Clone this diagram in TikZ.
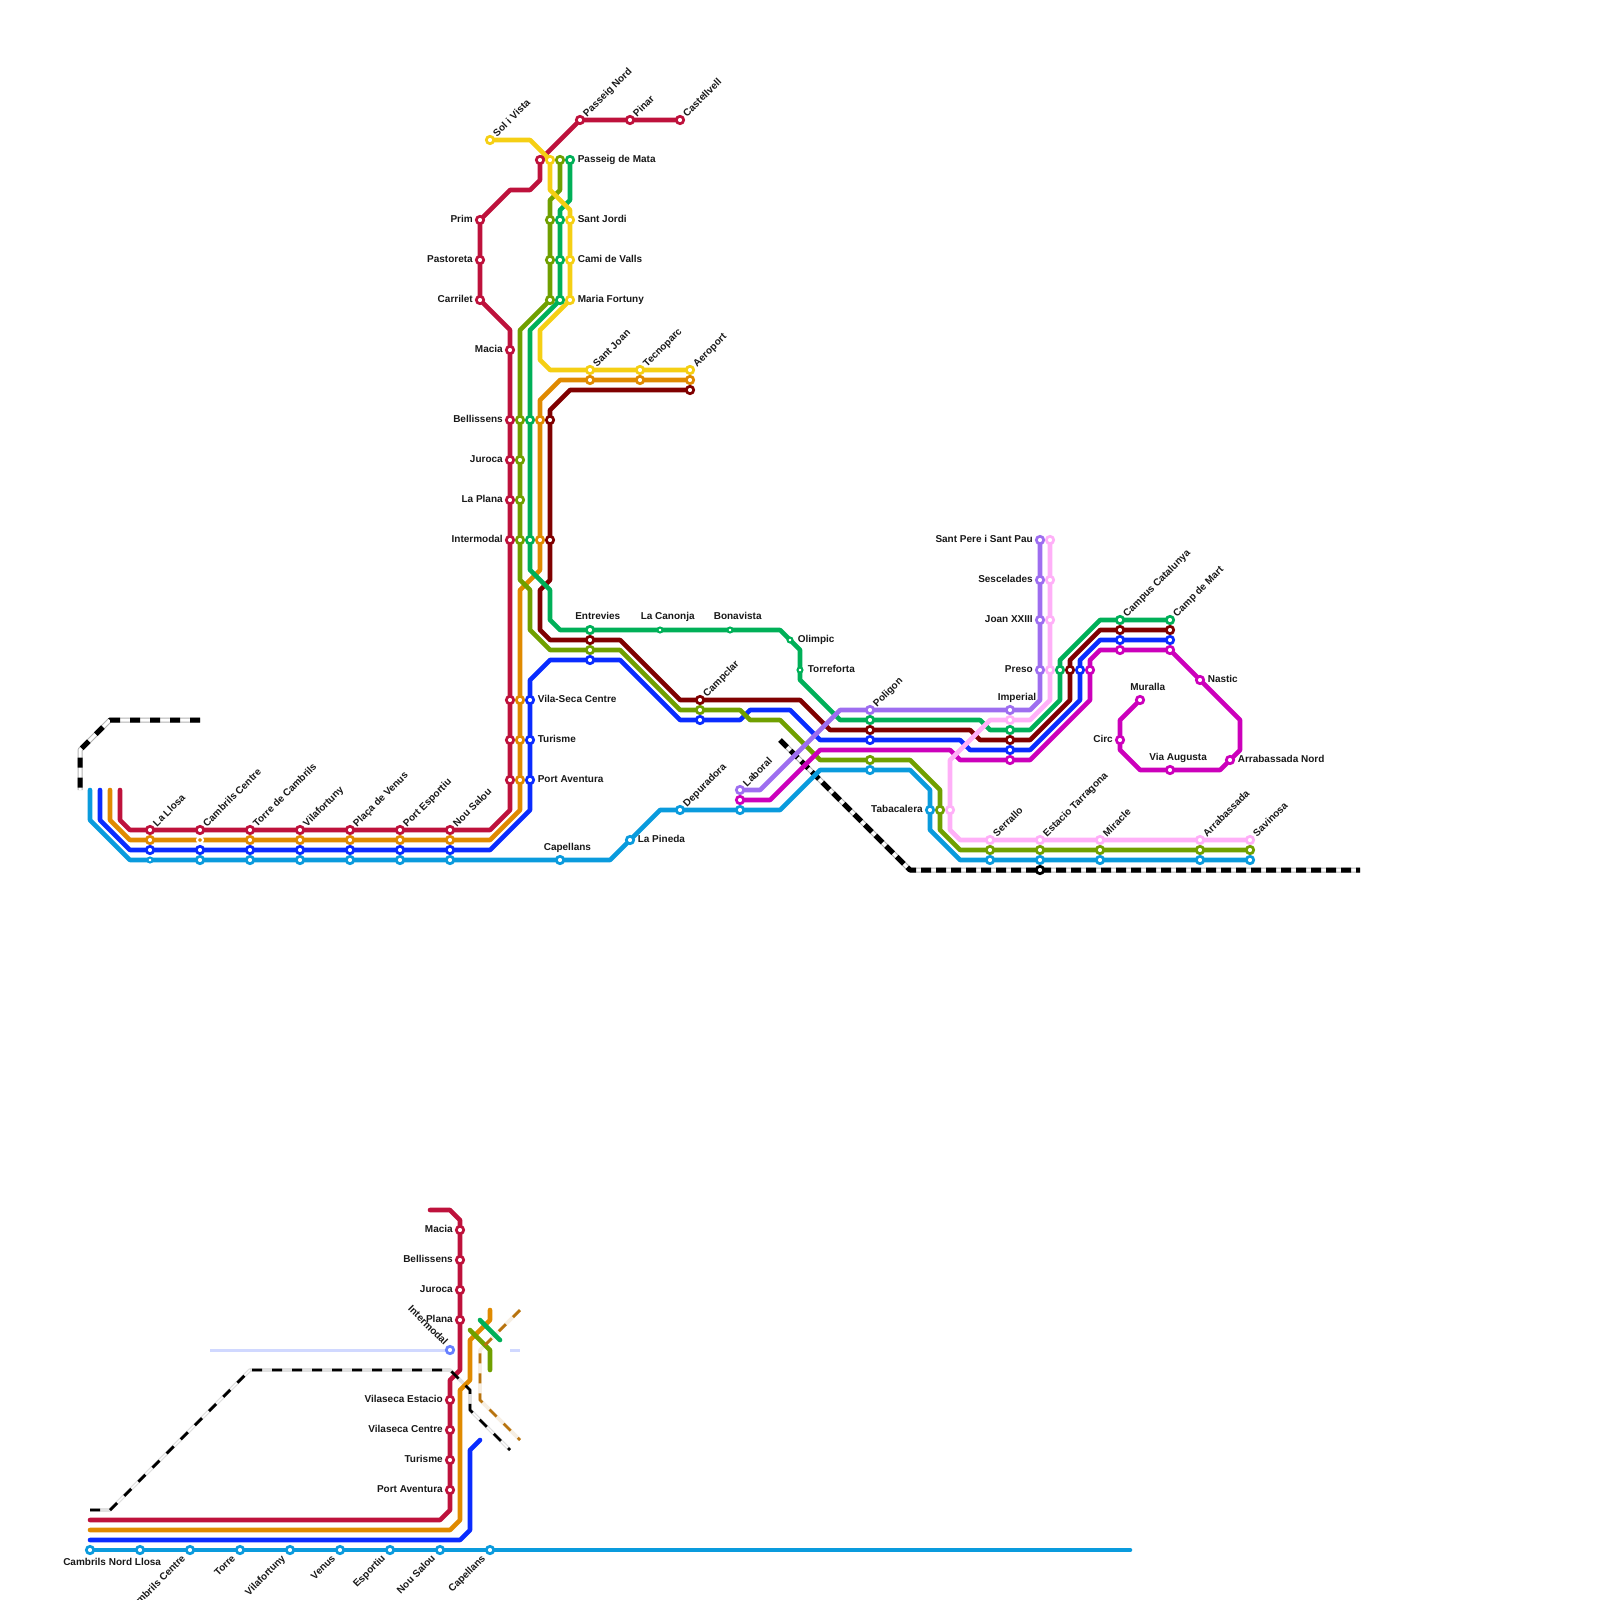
\documentclass[tikz,border=0pt]{standalone}
\usepackage{fontspec}
\usepackage{xcolor}
\usepackage{tikz}
\setmainfont{Liberation Sans}
\definecolor{clred}{RGB}{190,18,60}
\definecolor{clor}{RGB}{224,138,0}
\definecolor{clbl}{RGB}{10,44,255}
\definecolor{clcy}{RGB}{10,155,221}
\definecolor{clol}{RGB}{112,160,0}
\definecolor{clgn}{RGB}{0,176,88}
\definecolor{cldk}{RGB}{128,0,0}
\definecolor{clyl}{RGB}{245,207,20}
\definecolor{clpu}{RGB}{158,110,240}
\definecolor{clpk}{RGB}{255,176,248}
\definecolor{clmg}{RGB}{204,0,187}
\definecolor{clbr}{RGB}{184,115,13}
\definecolor{clli}{RGB}{208,216,255}
\definecolor{clim}{RGB}{102,128,255}
\pgfdeclarelayer{lines}
\pgfsetlayers{lines,main}
\tikzset{
  st/.style={circle, draw=#1, fill=white, line width=0.68mm, minimum size=1.85mm, inner sep=0pt},
  sts/.style={circle, draw=#1, fill=white, line width=0.5mm, minimum size=1.25mm, inner sep=0pt},
  stx/.style={circle, draw=white, fill=#1, line width=0.5mm, minimum size=1.5mm, inner sep=0pt},
  lbl/.style={font=\fontsize{7.11}{8}\selectfont\bfseries, text=black!90, inner sep=0pt},
  lblr/.style={lbl, anchor=base west},
  lbll/.style={lbl, anchor=base east},
  lbld/.style={lbl, anchor=base west, rotate=45},
  lblu/.style={lbl, anchor=base east, rotate=45},
  lnm/.style={draw=#1, line width=1.15mm, line cap=round, line join=round},
  lnf/.style={draw=#1, line width=0.75mm, line cap=butt, line join=round},
  railw/.style={draw=black!30, line width=1.25mm, line join=round},
  railm/.style={draw=white, line width=0.75mm, line join=round},
  railc/.style={draw=black, line width=1.25mm, line join=round},
  thinw/.style={draw=black!12, line width=0.9mm, line join=round},
  thinm/.style={draw=white, line width=0.3mm, line join=round},
  thinc/.style={draw=black, line width=0.7mm, line join=round, dash pattern=on 2.5mm off 2.5mm},
  brw/.style={draw=clbr!12, line width=0.9mm, line join=round},
  brc/.style={draw=clbr, line width=0.7mm, line join=round, dash pattern=on 2.5mm off 2.5mm}
}

\begin{document}
\begin{tikzpicture}[x=0.25mm, y=-0.25mm]
  \clip (0,0) rectangle (1600,1600);
  \node[st=clred] (rdCas) at (680,120) {};
  \node[st=clred] (rdPin) at (630,120) {};
  \node[st=clred] (rdPno) at (580,120) {};
  \node[st=clred] (rdMat) at (540,160) {};
  \node[st=clred] (rdPri) at (480,220) {};
  \node[st=clred] (rdPas) at (480,260) {};
  \node[st=clred] (rdCar) at (480,300) {};
  \node[st=clred] (rdMac) at (510,350) {};
  \node[st=clred] (rdBel) at (510,420) {};
  \node[st=clred] (rdJur) at (510,460) {};
  \node[st=clred] (rdPla) at (510,500) {};
  \node[st=clred] (rdInt) at (510,540) {};
  \node[st=clred] (rdVil) at (510,700) {};
  \node[st=clred] (rdTur) at (510,740) {};
  \node[st=clred] (rdPav) at (510,780) {};
  \node[st=clred] (rdNou) at (450,830) {};
  \node[st=clred] (rdEsp) at (400,830) {};
  \node[st=clred] (rdVen) at (350,830) {};
  \node[st=clred] (rdVfo) at (300,830) {};
  \node[st=clred] (rdTor) at (250,830) {};
  \node[st=clred] (rdCen) at (200,830) {};
  \node[st=clred] (rdLlo) at (150,830) {};
  \node[st=clyl] (ylSol) at (490,140) {};
  \node[st=clyl] (ylMat) at (550,160) {};
  \node[st=clyl] (ylJor) at (570,220) {};
  \node[st=clyl] (ylVal) at (570,260) {};
  \node[st=clyl] (ylFor) at (570,300) {};
  \node[st=clyl] (ylJoa) at (590,370) {};
  \node[st=clyl] (ylTec) at (640,370) {};
  \node[st=clyl] (ylAer) at (690,370) {};
  \node[st=clol] (olMat) at (560,160) {};
  \node[st=clol] (olJor) at (550,220) {};
  \node[st=clol] (olVal) at (550,260) {};
  \node[st=clol] (olFor) at (550,300) {};
  \node[st=clol] (olBel) at (520,420) {};
  \node[st=clol] (olJur) at (520,460) {};
  \node[st=clol] (olPla) at (520,500) {};
  \node[st=clol] (olInt) at (520,540) {};
  \node[st=clol] (olEnt) at (590,650) {};
  \node[st=clol] (olCam) at (700,710) {};
  \node[st=clol] (olPol) at (870,760) {};
  \node[st=clol] (olTab) at (940,810) {};
  \node[st=clol] (olSer) at (990,850) {};
  \node[st=clol] (olEst) at (1040,850) {};
  \node[st=clol] (olMir) at (1100,850) {};
  \node[st=clol] (olArr) at (1200,850) {};
  \node[st=clol] (olSav) at (1250,850) {};
  \node[st=clgn] (gnMat) at (570,160) {};
  \node[st=clgn] (gnJor) at (560,220) {};
  \node[st=clgn] (gnVal) at (560,260) {};
  \node[st=clgn] (gnFor) at (560,300) {};
  \node[st=clgn] (gnBel) at (530,420) {};
  \node[st=clgn] (gnInt) at (530,540) {};
  \node[st=clgn] (gnEnt) at (590,630) {};
  \node[sts=clgn] (gnCan) at (660,630) {};
  \node[sts=clgn] (gnBon) at (730,630) {};
  \node[sts=clgn] (gnOli) at (790,640) {};
  \node[sts=clgn] (gnTrf) at (800,670) {};
  \node[st=clgn] (gnPol) at (870,720) {};
  \node[st=clgn] (gnImp) at (1010,730) {};
  \node[st=clgn] (gnPre) at (1060,670) {};
  \node[st=clgn] (gnCat) at (1120,620) {};
  \node[st=clgn] (gnMar) at (1170,620) {};
  \node[st=clor] (orAer) at (690,380) {};
  \node[st=clor] (orTec) at (640,380) {};
  \node[st=clor] (orJoa) at (590,380) {};
  \node[st=clor] (orBel) at (540,420) {};
  \node[st=clor] (orInt) at (540,540) {};
  \node[st=clor] (orVil) at (520,700) {};
  \node[st=clor] (orTur) at (520,740) {};
  \node[st=clor] (orPav) at (520,780) {};
  \node[st=clor] (orNou) at (450,840) {};
  \node[st=clor] (orEsp) at (400,840) {};
  \node[st=clor] (orVen) at (350,840) {};
  \node[st=clor] (orVfo) at (300,840) {};
  \node[st=clor] (orTor) at (250,840) {};
  \node[stx=clor] (orCen) at (200,840) {};
  \node[st=clor] (orLlo) at (150,840) {};
  \node[st=cldk] (dkAer) at (690,390) {};
  \node[st=cldk] (dkBel) at (550,420) {};
  \node[st=cldk] (dkInt) at (550,540) {};
  \node[st=cldk] (dkEnt) at (590,640) {};
  \node[st=cldk] (dkCam) at (700,700) {};
  \node[st=cldk] (dkPol) at (870,730) {};
  \node[st=cldk] (dkImp) at (1010,740) {};
  \node[st=cldk] (dkPre) at (1070,670) {};
  \node[st=cldk] (dkCat) at (1120,630) {};
  \node[st=cldk] (dkMar) at (1170,630) {};
  \node[st=clbl] (blLlo) at (150,850) {};
  \node[st=clbl] (blCen) at (200,850) {};
  \node[st=clbl] (blTor) at (250,850) {};
  \node[st=clbl] (blVfo) at (300,850) {};
  \node[st=clbl] (blVen) at (350,850) {};
  \node[st=clbl] (blEsp) at (400,850) {};
  \node[st=clbl] (blNou) at (450,850) {};
  \node[st=clbl] (blPav) at (530,780) {};
  \node[st=clbl] (blTur) at (530,740) {};
  \node[st=clbl] (blVil) at (530,700) {};
  \node[st=clbl] (blEnt) at (590,660) {};
  \node[st=clbl] (blCam) at (700,720) {};
  \node[st=clbl] (blPol) at (870,740) {};
  \node[st=clbl] (blImp) at (1010,750) {};
  \node[st=clbl] (blPre) at (1080,670) {};
  \node[st=clbl] (blCat) at (1120,640) {};
  \node[st=clbl] (blMar) at (1170,640) {};
  \node[sts=clcy] (cyLlo) at (150,860) {};
  \node[st=clcy] (cyCen) at (200,860) {};
  \node[st=clcy] (cyTor) at (250,860) {};
  \node[st=clcy] (cyVfo) at (300,860) {};
  \node[st=clcy] (cyVen) at (350,860) {};
  \node[st=clcy] (cyEsp) at (400,860) {};
  \node[st=clcy] (cyNou) at (450,860) {};
  \node[st=clcy] (cyCap) at (560,860) {};
  \node[st=clcy] (cyPin) at (630,840) {};
  \node[st=clcy] (cyDep) at (680,810) {};
  \node[st=clcy] (cyLab) at (740,810) {};
  \node[st=clcy] (cyPol) at (870,770) {};
  \node[st=clcy] (cyTab) at (930,810) {};
  \node[st=clcy] (cySer) at (990,860) {};
  \node[st=clcy] (cyEst) at (1040,860) {};
  \node[st=clcy] (cyMir) at (1100,860) {};
  \node[st=clcy] (cyArr) at (1200,860) {};
  \node[st=clcy] (cySav) at (1250,860) {};
  \node[st=clmg] (mgLab) at (740,800) {};
  \node[st=clmg] (mgImp) at (1010,760) {};
  \node[st=clmg] (mgPre) at (1090,670) {};
  \node[st=clmg] (mgCat) at (1120,650) {};
  \node[st=clmg] (mgMar) at (1170,650) {};
  \node[st=clmg] (mgNas) at (1200,680) {};
  \node[st=clmg] (mgArn) at (1230,760) {};
  \node[st=clmg] (mgVia) at (1170,770) {};
  \node[st=clmg] (mgCir) at (1120,740) {};
  \node[st=clmg] (mgMur) at (1140,700) {};
  \node[st=clpu] (puPer) at (1040,540) {};
  \node[st=clpu] (puSes) at (1040,580) {};
  \node[st=clpu] (puJoa) at (1040,620) {};
  \node[st=clpu] (puPre) at (1040,670) {};
  \node[st=clpu] (puImp) at (1010,710) {};
  \node[st=clpu] (puPol) at (870,710) {};
  \node[st=clpu] (puLab) at (740,790) {};
  \node[st=clpk] (pkPer) at (1050,540) {};
  \node[st=clpk] (pkSes) at (1050,580) {};
  \node[st=clpk] (pkJoa) at (1050,620) {};
  \node[st=clpk] (pkPre) at (1050,670) {};
  \node[st=clpk] (pkImp) at (1010,720) {};
  \node[st=clpk] (pkTab) at (950,810) {};
  \node[st=clpk] (pkSer) at (990,840) {};
  \node[st=clpk] (pkEst) at (1040,840) {};
  \node[st=clpk] (pkMir) at (1100,840) {};
  \node[st=clpk] (pkArr) at (1200,840) {};
  \node[st=clpk] (pkSav) at (1250,840) {};
  \node[st=black] (rlEst) at (1040,870) {};
  \node[st=clred] (lrMac) at (460,1230) {};
  \node[st=clred] (lrBel) at (460,1260) {};
  \node[st=clred] (lrJur) at (460,1290) {};
  \node[st=clred] (lrPla) at (460,1320) {};
  \node[st=clred] (lrEst) at (450,1400) {};
  \node[st=clred] (lrCen) at (450,1430) {};
  \node[st=clred] (lrTur) at (450,1460) {};
  \node[st=clred] (lrPav) at (450,1490) {};
  \node[st=clim] (liInt) at (450,1350) {};
  \node[st=clcy] (lcLlo) at (90,1550) {};
  \node[st=clcy] (lcNor) at (140,1550) {};
  \node[st=clcy] (lcCen) at (190,1550) {};
  \node[st=clcy] (lcTor) at (240,1550) {};
  \node[st=clcy] (lcVfo) at (290,1550) {};
  \node[st=clcy] (lcVen) at (340,1550) {};
  \node[st=clcy] (lcEsp) at (390,1550) {};
  \node[st=clcy] (lcNou) at (440,1550) {};
  \node[st=clcy] (lcCap) at (490,1550) {};
  \coordinate (lcEnd) at (1130,1550);
  \begin{pgfonlayer}{lines}
    \draw[railw] (200,720) -- (110,720) -- (80,750) -- (80,790);
    \draw[railm] (200,720) -- (110,720) -- (80,750) -- (80,790);
    \draw[railc, dash pattern=on 2.5mm off 2.5mm] (200,720) -- (110,720) -- (80,750) -- (80,790);
    \draw[railw] (780,740) -- (910,870) -- (1360,870);
    \draw[railm] (780,740) -- (910,870) -- (1360,870);
    \draw[railc, dash pattern=on 2.5mm off 1.25mm] (780,740) -- (910,870) -- (1360,870);
    \draw[thinw] (90,1510) -- (110,1510) -- (250,1370) -- (450,1370) -- (470,1390) -- (470,1410) -- (510,1450);
    \draw[thinm] (110,1510) -- (250,1370);
    \draw[thinm] (470,1410) -- (510,1450);
    \draw[brw] (520,1310) -- (480,1350) -- (480,1400) -- (520,1440);
    \draw[lnm=clred] (rdCas.center) -- (rdPin.center) -- (rdPno.center) -- (rdMat.center) -- (540,180) -- (530,190) -- (510,190) -- (rdPri.center) -- (rdPas.center) -- (rdCar.center) -- (510,330) -- (rdMac.center) -- (rdBel.center) -- (rdJur.center) -- (rdPla.center) -- (rdInt.center) -- (rdVil.center) -- (rdTur.center) -- (rdPav.center) -- (510,810) -- (490,830) -- (rdNou.center) -- (rdEsp.center) -- (rdVen.center) -- (rdVfo.center) -- (rdTor.center) -- (rdCen.center) -- (rdLlo.center) -- (130,830) -- (120,820) -- (120,790);
    \draw[lnm=clcy] (90,790) -- (90,820) -- (130,860) -- (cyLlo.center) -- (cyCen.center) -- (cyTor.center) -- (cyVfo.center) -- (cyVen.center) -- (cyEsp.center) -- (cyNou.center) -- (cyCap.center) -- (610,860) -- (cyPin.center) -- (660,810) -- (cyDep.center) -- (cyLab.center) -- (780,810) -- (820,770) -- (cyPol.center) -- (910,770) -- (930,790) -- (cyTab.center) -- (930,830) -- (960,860) -- (cySer.center) -- (cyEst.center) -- (cyMir.center) -- (cyArr.center) -- (cySav.center);
    \draw[lnm=clbl] (100,790) -- (100,820) -- (130,850) -- (blLlo.center) -- (blCen.center) -- (blTor.center) -- (blVfo.center) -- (blVen.center) -- (blEsp.center) -- (blNou.center) -- (490,850) -- (530,810) -- (blPav.center) -- (blTur.center) -- (blVil.center) -- (530,680) -- (550,660) -- (blEnt.center) -- (620,660) -- (680,720) -- (blCam.center) -- (740,720) -- (750,710) -- (790,710) -- (820,740) -- (blPol.center) -- (960,740) -- (970,750) -- (blImp.center) -- (1030,750) -- (1080,700) -- (blPre.center) -- (1080,660) -- (1100,640) -- (blCat.center) -- (blMar.center);
    \draw[lnm=clor] (orAer.center) -- (orTec.center) -- (orJoa.center) -- (560,380) -- (540,400) -- (orBel.center) -- (orInt.center) -- (540,570) -- (520,590) -- (orVil.center) -- (orTur.center) -- (orPav.center) -- (520,810) -- (490,840) -- (orNou.center) -- (orEsp.center) -- (orVen.center) -- (orVfo.center) -- (orTor.center) -- (orCen.center) -- (orLlo.center) -- (130,840) -- (110,820) -- (110,790);
    \draw[lnm=cldk] (dkAer.center) -- (570,390) -- (550,410) -- (dkBel.center) -- (dkInt.center) -- (550,580) -- (540,590) -- (540,630) -- (550,640) -- (dkEnt.center) -- (620,640) -- (680,700) -- (dkCam.center) -- (800,700) -- (830,730) -- (dkPol.center) -- (970,730) -- (980,740) -- (dkImp.center) -- (1030,740) -- (1070,700) -- (dkPre.center) -- (1070,660) -- (1100,630) -- (dkCat.center) -- (dkMar.center);
    \draw[lnm=clol] (olMat.center) -- (560,190) -- (550,200) -- (olJor.center) -- (olVal.center) -- (olFor.center) -- (520,330) -- (olBel.center) -- (olJur.center) -- (olPla.center) -- (olInt.center) -- (520,580) -- (530,590) -- (530,630) -- (550,650) -- (olEnt.center) -- (620,650) -- (680,710) -- (olCam.center) -- (740,710) -- (750,720) -- (780,720) -- (820,760) -- (olPol.center) -- (910,760) -- (940,790) -- (olTab.center) -- (940,830) -- (960,850) -- (olSer.center) -- (olEst.center) -- (olMir.center) -- (olArr.center) -- (olSav.center);
    \draw[lnm=clgn] (gnMat.center) -- (570,200) -- (560,210) -- (gnJor.center) -- (gnVal.center) -- (gnFor.center) -- (530,330) -- (gnBel.center) -- (gnInt.center) -- (530,570) -- (550,590) -- (550,620) -- (560,630) -- (gnEnt.center) -- (gnCan.center) -- (gnBon.center) -- (780,630) -- (gnOli.center) -- (800,650) -- (gnTrf.center) -- (800,680) -- (840,720) -- (gnPol.center) -- (980,720) -- (990,730) -- (gnImp.center) -- (1030,730) -- (1060,700) -- (gnPre.center) -- (1060,660) -- (1100,620) -- (gnCat.center) -- (gnMar.center);
    \draw[lnm=clyl] (ylSol.center) -- (530,140) -- (ylMat.center) -- (550,190) -- (570,210) -- (ylJor.center) -- (ylVal.center) -- (ylFor.center) -- (540,330) -- (540,360) -- (550,370) -- (ylJoa.center) -- (ylTec.center) -- (ylAer.center);
    \draw[lnm=clmg] (mgLab.center) -- (770,800) -- (820,750) -- (950,750) -- (960,760) -- (mgImp.center) -- (1030,760) -- (1090,700) -- (mgPre.center) -- (1090,660) -- (1100,650) -- (mgCat.center) -- (mgMar.center) -- (mgNas.center) -- (1240,720) -- (1240,750) -- (mgArn.center) -- (1220,770) -- (mgVia.center) -- (1140,770) -- (1120,750) -- (mgCir.center) -- (1120,720) -- (mgMur.center);
    \draw[lnm=clpu] (puPer.center) -- (puSes.center) -- (puJoa.center) -- (puPre.center) -- (1040,700) -- (1030,710) -- (puImp.center) -- (puPol.center) -- (840,710) -- (760,790) -- (puLab.center);
    \draw[lnm=clpk] (pkPer.center) -- (pkSes.center) -- (pkJoa.center) -- (pkPre.center) -- (1050,700) -- (1030,720) -- (pkImp.center) -- (990,720) -- (950,760) -- (pkTab.center) -- (950,830) -- (960,840) -- (pkSer.center) -- (pkEst.center) -- (pkMir.center) -- (pkArr.center) -- (pkSav.center);
    \draw[lnf=clli] (210,1350) -- (liInt.center);
    \draw[lnf=clli] (510,1350) -- (520,1350);
    \draw[lnm=clcy] (lcLlo.center) -- (lcNor.center) -- (lcCen.center) -- (lcTor.center) -- (lcVfo.center) -- (lcVen.center) -- (lcEsp.center) -- (lcNou.center) -- (lcCap.center) -- (lcEnd);
    \draw[lnm=clbl] (90,1540) -- (460,1540) -- (470,1530) -- (470,1450) -- (480,1440);
    \draw[lnm=clred] (430,1210) -- (450,1210) -- (460,1220) -- (lrMac.center) -- (lrBel.center) -- (lrJur.center) -- (lrPla.center) -- (460,1370) -- (450,1380) -- (lrEst.center) -- (lrCen.center) -- (lrTur.center) -- (lrPav.center) -- (450,1510) -- (440,1520) -- (90,1520);
    \draw[lnm=clor] (90,1530) -- (450,1530) -- (460,1520) -- (460,1390) -- (470,1380) -- (470,1340) -- (490,1320) -- (490,1310);
    \draw[lnm=clol] (470,1330) -- (490,1350) -- (490,1370);
    \draw[lnm=clgn] (480,1320) -- (500,1340);
    \draw[brc] (520,1310) -- (480,1350) -- (480,1400) -- (520,1440);
    \draw[thinc] (90,1510) -- (110,1510) -- (250,1370) -- (450,1370) -- (470,1390) -- (470,1410) -- (510,1450);
  \end{pgfonlayer}
  \node[lbld] (tSol) at (497,137.5) {Sol i Vista};
  \node[lbld] (tPno) at (587,117.5) {Passeig Nord};
  \node[lbld] (tPin) at (637,117.5) {Pinar};
  \node[lbld] (tCas) at (687,117.5) {Castellvell};
  \node[lblr] (tMat) at (577.5,162.5) {Passeig de Mata};
  \node[lblr] (tJor) at (577.5,222.5) {Sant Jordi};
  \node[lblr] (tVal) at (577.5,262.5) {Cami de Valls};
  \node[lblr] (tFor) at (577.5,302.5) {Maria Fortuny};
  \node[lbll] (tPri) at (473,222.5) {Prim};
  \node[lbll] (tPas) at (473,262.5) {Pastoreta};
  \node[lbll] (tCar) at (473,302.5) {Carrilet};
  \node[lbll] (tMac) at (503,352.5) {Macia};
  \node[lbll] (tBel) at (503,422.5) {Bellissens};
  \node[lbll] (tJur) at (503,462.5) {Juroca};
  \node[lbll] (tPla) at (503,502.5) {La Plana};
  \node[lbll] (tInt) at (503,542.5) {Intermodal};
  \node[lbld] (tJoa) at (597,367.5) {Sant Joan};
  \node[lbld] (tTec) at (647,367.5) {Tecnoparc};
  \node[lbld] (tAer) at (697,367.5) {Aeroport};
  \node[lblr] (tEnt) at (575,619.5) {Entrevies};
  \node[lblr] (tCan) at (640.5,619.5) {La Canonja};
  \node[lblr] (tBon) at (713.5,619.5) {Bonavista};
  \node[lblr] (tOli) at (797.5,642.5) {Olimpic};
  \node[lblr] (tTrf) at (807.5,672.5) {Torreforta};
  \node[lblr] (tVil) at (537.5,702.5) {Vila-Seca Centre};
  \node[lblr] (tTur) at (537.5,742.5) {Turisme};
  \node[lblr] (tPav) at (537.5,782.5) {Port Aventura};
  \node[lbld] (tCam) at (707,697.5) {Campclar};
  \node[lbld] (tPol) at (877,707.5) {Poligon};
  \node[lbld] (tLab) at (747,787.5) {Laboral};
  \node[lbld] (tDep) at (687,807.5) {Depuradora};
  \node[lblr] (tPin2) at (637.5,842.5) {La Pineda};
  \node[lblr] (tCap) at (543.5,850) {Capellans};
  \node[lbll] (tTab) at (923,812.5) {Tabacalera};
  \node[lbld] (tLlo) at (157,827.5) {La Llosa};
  \node[lbld] (tCen) at (207,827.5) {Cambrils Centre};
  \node[lbld] (tTor) at (257,827.5) {Torre de Cambrils};
  \node[lbld] (tVfo) at (307,827.5) {Vilafortuny};
  \node[lbld] (tVen) at (357,827.5) {Plaça de Venus};
  \node[lbld] (tEsp) at (407,827.5) {Port Esportiu};
  \node[lbld] (tNou) at (457,827.5) {Nou Salou};
  \node[lbll] (tPer) at (1033,542.5) {Sant Pere i Sant Pau};
  \node[lbll] (tSes) at (1033,582.5) {Sescelades};
  \node[lbll] (tJxx) at (1033,622.5) {Joan XXIII};
  \node[lbll] (tPre) at (1033,672.5) {Preso};
  \node[lblr] (tImp) at (997.5,700) {Imperial};
  \node[lbld] (tCat) at (1127,617.5) {Campus Catalunya};
  \node[lbld] (tMar) at (1177,617.5) {Camp de Mart};
  \node[lblr] (tNas) at (1207.5,682.5) {Nastic};
  \node[lblr] (tMur) at (1130,690) {Muralla};
  \node[lbll] (tCir) at (1113,742.5) {Circ};
  \node[lblr] (tVia) at (1149,760) {Via Augusta};
  \node[lblr] (tArn) at (1237.5,762.5) {Arrabassada Nord};
  \node[lbld] (tSer) at (997,837.5) {Serrallo};
  \node[lbld] (tEst) at (1047,837.5) {Estacio Tarragona};
  \node[lbld] (tMir) at (1107,837.5) {Miracle};
  \node[lbld] (tArr) at (1207,837.5) {Arrabassada};
  \node[lbld] (tSav) at (1257,837.5) {Savinosa};
  \node[lbll] (uMac) at (453,1232.5) {Macia};
  \node[lbll] (uBel) at (453,1262.5) {Bellissens};
  \node[lbll] (uJur) at (453,1292.5) {Juroca};
  \node[lbll] (uPla) at (453,1322.5) {Plana};
  \node[lbl, anchor=base east, rotate=-45] (uInt) at (444,1346) {Intermodal};
  \node[lbll] (uEst) at (443,1402.5) {Vilaseca Estacio};
  \node[lbll] (uCen) at (443,1432.5) {Vilaseca Centre};
  \node[lbll] (uTur) at (443,1462.5) {Turisme};
  \node[lbll] (uPav) at (443,1492.5) {Port Aventura};
  \node[lblr] (uLlo) at (63,1565) {Cambrils Nord Llosa};
  \node[lblu] (uCem) at (186,1559) {Cambrils Centre};
  \node[lblu] (uTor) at (236,1559) {Torre};
  \node[lblu] (uVfo) at (286,1559) {Vilafortuny};
  \node[lblu] (uVen) at (336,1559) {Venus};
  \node[lblu] (uEsp) at (386,1559) {Esportiu};
  \node[lblu] (uNou) at (436,1559) {Nou Salou};
  \node[lblu] (uCap) at (486,1559) {Capellans};
\end{tikzpicture}
\end{document}
